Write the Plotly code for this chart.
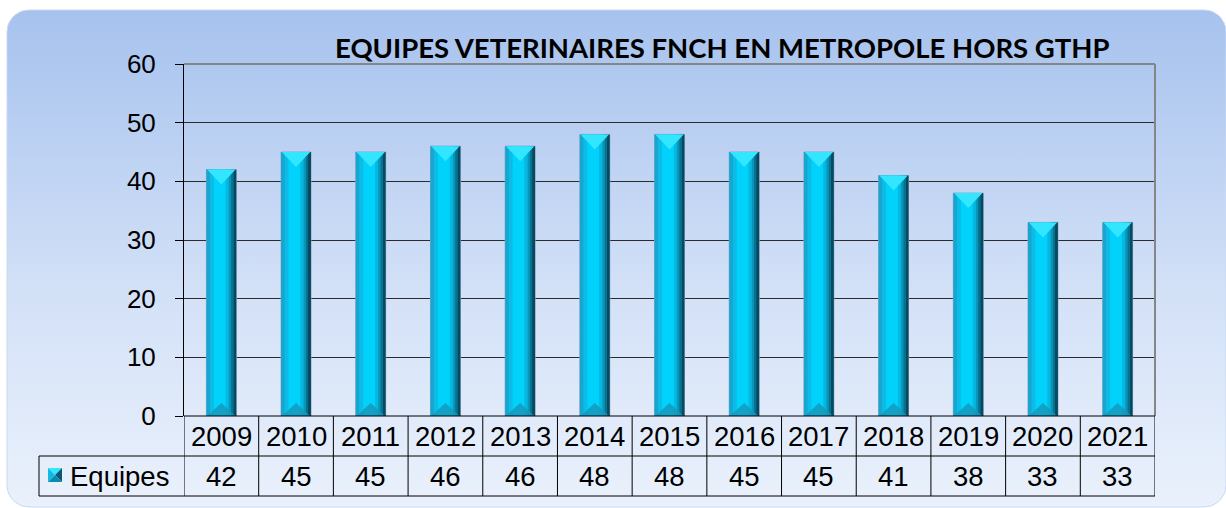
import numpy as np
import plotly.graph_objects as go

# ---------------- data ----------------
years = ["2009", "2010", "2011", "2012", "2013", "2014", "2015",
         "2016", "2017", "2018", "2019", "2020", "2021"]
equipes = [42, 45, 45, 46, 46, 48, 48, 45, 45, 41, 38, 33, 33]
series_name = "Equipes"
title_text = "EQUIPES VETERINAIRES FNCH EN METROPOLE HORS GTHP"
y_ticks = [0, 10, 20, 30, 40, 50, 60]

W, H = 1226, 508
FONT = "Liberation Sans, Arial, sans-serif"

# plot-area placement (pixels)
PL, PR, PT, PB = 184, 1155, 64, 416

fig = go.Figure()

# ---------- background rounded box (pixel subplot xy, y up) ----------
def rounded_rect(x0, y0, x1, y1, r, n=12):
    xs, ys = [], []
    corners = [(x1 - r, y1 - r, 0, 90), (x0 + r, y1 - r, 90, 180),
               (x0 + r, y0 + r, 180, 270), (x1 - r, y0 + r, 270, 360)]
    for cx, cy, a0, a1 in corners:
        for a in np.linspace(np.radians(a0), np.radians(a1), n):
            xs.append(cx + r * np.cos(a))
            ys.append(cy + r * np.sin(a))
    xs.append(xs[0]); ys.append(ys[0])
    return xs, ys

bx, by = rounded_rect(7, H - 507, 1226, H - 10, 22)
fig.add_trace(go.Scatter(
    x=bx, y=by, mode="lines", fill="toself",
    line=dict(color="#C9D8F2", width=1),
    fillgradient=dict(type="vertical",
                      colorscale=[[0, "#EAF1FC"], [0.45, "#D2E0F7"], [1, "#A6C2EE"]]),
    hoverinfo="skip", showlegend=False, xaxis="x", yaxis="y"))

# ---------- bars (chart subplot x2y2) ----------
xpos = list(range(len(years)))
strips = [(-0.2, 0.4, "#10C0EA"),
          (-0.2, 0.05, "#16A6CF"),
          (-0.15, 0.05, "#0CBCE6"),
          (-0.10, 0.16, "#00D2FC"),
          (0.06, 0.04, "#06B8E0"),
          (0.10, 0.03, "#0896BA"),
          (0.13, 0.03, "#087090"),
          (0.16, 0.04, "#064A60")]
for i, (off, wid, col) in enumerate(strips):
    fig.add_trace(go.Bar(
        x=xpos, y=equipes, offset=off, width=wid,
        marker=dict(color=col,
                    line=dict(color="#8CA2C4" if i == 0 else col,
                              width=1 if i == 0 else 0)),
        hoverinfo="skip", showlegend=False, xaxis="x2", yaxis="y2"))

# bevels (top light triangle, bottom darker triangle)
unit_per_px = 60 / (PB - PT)
d = 15 * unit_per_px
db = 13 * unit_per_px
tx, ty, bxs, bys = [], [], [], []
for xc, v in zip(xpos, equipes):
    tx += [xc - 0.19, xc + 0.19, xc, xc - 0.19, None]
    ty += [v, v, v - d, v, None]
    bxs += [xc - 0.19, xc + 0.19, xc, xc - 0.19, None]
    bys += [0, 0, db, 0, None]
fig.add_trace(go.Scatter(x=tx, y=ty, mode="lines", fill="toself",
                         fillcolor="#33E6FF", line=dict(width=0),
                         hoverinfo="skip", showlegend=False,
                         xaxis="x2", yaxis="y2"))
fig.add_trace(go.Scatter(x=bxs, y=bys, mode="lines", fill="toself",
                         fillcolor="rgba(22,150,185,0.8)", line=dict(width=0),
                         hoverinfo="skip", showlegend=False,
                         xaxis="x2", yaxis="y2"))

shapes = []
# plot area background
shapes.append(dict(type="rect", xref="x2 domain", yref="y2 domain",
                   x0=0, x1=1, y0=0, y1=1, fillcolor="#CCCCFC",
                   line=dict(width=0), layer="below"))
# top & right border of plot area
shapes.append(dict(type="line", xref="x2 domain", yref="y2 domain",
                   x0=0, x1=1, y0=1, y1=1, line=dict(color="#868686", width=2)))
shapes.append(dict(type="line", xref="x2 domain", yref="y2 domain",
                   x0=1, x1=1, y0=0, y1=1, line=dict(color="#868686", width=2)))

# ---------- data table ----------
row1_top, row_mid, row2_bot = H - 416, H - 456, H - 496
n = len(years)
for i in range(n + 1):
    shapes.append(dict(type="line", xref="x2", yref="y",
                       x0=i - 0.5, x1=i - 0.5, y0=row2_bot, y1=row1_top,
                       line=dict(color="black", width=1)))
for yy in (row1_top, row_mid, row2_bot):
    shapes.append(dict(type="line", xref="x2", yref="y",
                       x0=-0.5, x1=n - 0.5, y0=yy, y1=yy,
                       line=dict(color="black", width=1)))
# header cell for series name
for yy in (row_mid, row2_bot):
    shapes.append(dict(type="line", xref="x", yref="y",
                       x0=39, x1=PL, y0=yy, y1=yy,
                       line=dict(color="black", width=1)))
shapes.append(dict(type="line", xref="x", yref="y",
                   x0=39, x1=39, y0=row2_bot, y1=row_mid,
                   line=dict(color="black", width=1)))
# light cell fill for table
shapes.append(dict(type="rect", xref="x2", yref="y",
                   x0=-0.5, x1=n - 0.5, y0=row2_bot, y1=row1_top,
                   fillcolor="rgba(235,242,253,0.6)", line=dict(width=0),
                   layer="below"))
# legend key (bevelled square)
kx0, ky0, ks = 48, H - 482, 14
kc = (kx0 + ks / 2, ky0 + ks / 2)
key_faces = [
    (f"M {kx0},{ky0+ks} L {kx0+ks},{ky0+ks} L {kc[0]},{kc[1]} Z", "#33E6FF"),
    (f"M {kx0},{ky0} L {kx0},{ky0+ks} L {kc[0]},{kc[1]} Z", "#10B8E2"),
    (f"M {kx0+ks},{ky0} L {kx0+ks},{ky0+ks} L {kc[0]},{kc[1]} Z", "#085A74"),
    (f"M {kx0},{ky0} L {kx0+ks},{ky0} L {kc[0]},{kc[1]} Z", "#0A8AB0"),
]
for p, c in key_faces:
    shapes.append(dict(type="path", xref="x", yref="y", path=p,
                       fillcolor=c, line=dict(width=0)))

annotations = []
TS = 27.5
for xc, yr, v in zip(xpos, years, equipes):
    annotations.append(dict(x=xc, y=(row1_top + row_mid) / 2, xref="x2", yref="y",
                            text=yr, showarrow=False,
                            font=dict(family=FONT, size=TS, color="black")))
    annotations.append(dict(x=xc, y=(row_mid + row2_bot) / 2, xref="x2", yref="y",
                            text=str(v), showarrow=False,
                            font=dict(family=FONT, size=TS, color="black")))
annotations.append(dict(x=68, y=(row_mid + row2_bot) / 2, xref="x", yref="y",
                        xanchor="left", text=series_name, showarrow=False,
                        font=dict(family=FONT, size=TS, color="black")))
# title
annotations.append(dict(x=722, y=H - 47, xref="x", yref="y", text=f"<b>{title_text}</b>",
                        showarrow=False,
                        font=dict(family="Lato, Open Sans, sans-serif", size=27.5,
                                  color="black")))

fig.update_layout(
    width=W, height=H,
    margin=dict(l=0, r=0, t=0, b=0),
    paper_bgcolor="white",
    plot_bgcolor="rgba(0,0,0,0)",
    barmode="overlay",
    hovermode=False,
    showlegend=False,
    shapes=shapes,
    annotations=annotations,
    xaxis=dict(domain=[0, 1], range=[0, W], visible=False, fixedrange=True),
    yaxis=dict(domain=[0, 1], range=[0, H], visible=False, fixedrange=True),
    xaxis2=dict(domain=[PL / W, PR / W], range=[-0.5, n - 0.5], anchor="y2",
                showticklabels=False, showgrid=False, zeroline=False,
                showline=False, ticks="", fixedrange=True, automargin=False),
    yaxis2=dict(domain=[(H - PB) / H, (H - PT) / H], range=[0, 60], anchor="x2",
                tickvals=y_ticks, showgrid=True, gridcolor="#2B2B2B", gridwidth=1,
                zeroline=False, showline=True, linecolor="black", linewidth=1,
                ticks="outside", ticklen=8, tickcolor="black",
                ticklabelstandoff=14, automargin=False,
                tickfont=dict(family=FONT, size=26, color="black"),
                fixedrange=True),
)

fig.write_html("out.html", config={"displayModeBar": False},
               post_script="document.body.style.margin='0px';"
                           "document.body.style.overflow='hidden';")
